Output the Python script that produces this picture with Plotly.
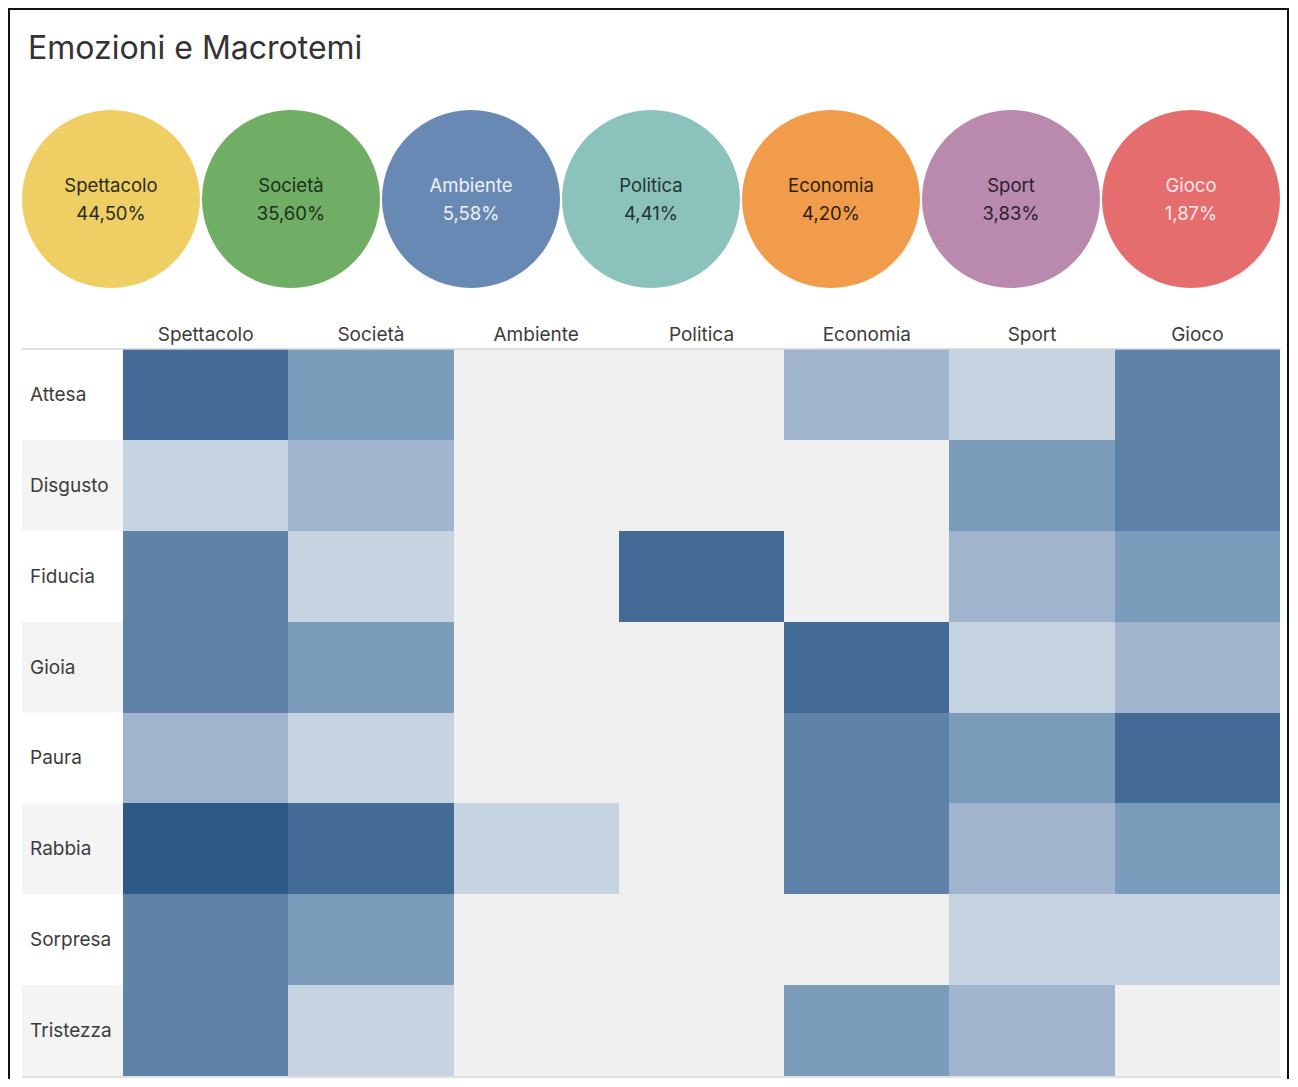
"""Emozioni e Macrotemi: bolle dei macrotemi + heatmap emozioni x macrotemi."""

import plotly.graph_objects as go

# la pagina html ha 8px di margine sul body
OFF = 8
W, H = 1290, 1071

# macrotemi (bolle in alto)
TOPICS = ["Spettacolo", "Società", "Ambiente", "Politica", "Economia", "Sport", "Gioco"]
TOPIC_SHARE = ["44,50%", "35,60%", "5,58%", "4,41%", "4,20%", "3,83%", "1,87%"]
TOPIC_COLORS = ["#efcf63", "#6fae64", "#6889b4", "#8bc2bc", "#f19c4a", "#b98aae", "#e56d6e"]
TOPIC_TEXT = ["#2b2b1e", "#1d2e1b", "#eef2f8", "#1f3633", "#2e1d0c", "#2b2030", "#fbe9e9"]

# emozioni (righe) e intensità a classi 0..6 (0 = nessun dato)
EMOTIONS = ["Attesa", "Disgusto", "Fiducia", "Gioia", "Paura", "Rabbia", "Sorpresa", "Tristezza"]
LEVELS = [
    [5, 3, 0, 0, 2, 1, 4],
    [1, 2, 0, 0, 0, 3, 4],
    [4, 1, 0, 5, 0, 2, 3],
    [4, 3, 0, 0, 5, 1, 2],
    [2, 1, 0, 0, 4, 3, 5],
    [6, 5, 1, 0, 4, 2, 3],
    [4, 3, 0, 0, 0, 1, 1],
    [4, 1, 0, 0, 3, 2, 0],
]
LEVEL_COLORS = ["#f0f0f0", "#c6d3e0", "#a0b5cd", "#7b9bbb", "#5e82a8", "#436b96", "#2c5985"]

FONT = "Inter, 'Open Sans', sans-serif"
TXT = "#3c3c3c"


def px_x(p):
    return (p - OFF) / W


def px_y(p):
    return 1 - (p - OFF) / H


def step_scale(colors):
    n = len(colors)
    scale = []
    for i, c in enumerate(colors):
        scale.append([i / n, c])
        scale.append([(i + 1) / n, c])
    return scale


idx = list(range(len(TOPICS)))
fig = go.Figure()

# bolle
fig.add_trace(
    go.Scatter(
        x=idx,
        y=[0] * len(TOPICS),
        mode="markers",
        marker=dict(size=178, color=TOPIC_COLORS, line=dict(width=0)),
        hoverinfo="skip",
        xaxis="x2",
        yaxis="y2",
        showlegend=False,
    )
)
fig.add_trace(
    go.Scatter(
        x=idx,
        y=[0.12] * len(TOPICS),
        mode="text",
        text=TOPICS,
        textposition="middle center",
        textfont=dict(size=18.5, color=TOPIC_TEXT, family=FONT),
        hoverinfo="skip",
        xaxis="x2",
        yaxis="y2",
        showlegend=False,
    )
)
fig.add_trace(
    go.Scatter(
        x=idx,
        y=[-0.16] * len(TOPICS),
        mode="text",
        text=TOPIC_SHARE,
        textposition="middle center",
        textfont=dict(size=18.5, color=TOPIC_TEXT, family=FONT),
        hoverinfo="skip",
        xaxis="x2",
        yaxis="y2",
        showlegend=False,
    )
)

# heatmap
fig.add_trace(
    go.Heatmap(
        z=LEVELS,
        x=TOPICS,
        y=EMOTIONS,
        zmin=-0.5,
        zmax=6.5,
        colorscale=step_scale(LEVEL_COLORS),
        showscale=False,
        xgap=0,
        ygap=0,
        hovertemplate="%{y} / %{x}: %{z}<extra></extra>",
    )
)

shapes = [
    # cornice
    dict(type="rect", xref="paper", yref="paper", x0=px_x(9), x1=px_x(1288),
         y0=px_y(1100), y1=px_y(9), line=dict(color="#111111", width=2)),
    # righe orizzontali della tabella
    dict(type="line", xref="paper", yref="paper", x0=px_x(22), x1=px_x(1281),
         y0=px_y(349), y1=px_y(349), line=dict(color="#d6d6d6", width=1.5)),
    dict(type="line", xref="paper", yref="paper", x0=px_x(22), x1=px_x(1281),
         y0=px_y(1077), y1=px_y(1077), line=dict(color="#d6d6d6", width=1.5)),
]
# bande alternate dietro le etichette di riga
for i, emo in enumerate(EMOTIONS):
    if i % 2 == 1:
        shapes.append(
            dict(type="rect", xref="paper", yref="y", x0=px_x(22), x1=px_x(123),
                 y0=i - 0.5, y1=i + 0.5, fillcolor="#f4f4f4", line=dict(width=0),
                 layer="below")
        )

annotations = [
    dict(text="Emozioni e Macrotemi", xref="paper", yref="paper", x=px_x(26), y=px_y(48),
         xanchor="left", yanchor="middle", showarrow=False,
         font=dict(size=32, color="#333333", family=FONT)),
]
for emo in EMOTIONS:
    annotations.append(
        dict(text=emo, xref="paper", yref="y", x=px_x(28), y=emo, xanchor="left",
             yanchor="middle", showarrow=False, font=dict(size=19, color=TXT, family=FONT))
    )

fig.update_layout(
    width=W,
    height=H,
    margin=dict(l=0, r=0, t=0, b=0),
    paper_bgcolor="white",
    plot_bgcolor="white",
    font=dict(family=FONT, color=TXT),
    shapes=shapes,
    annotations=annotations,
    xaxis=dict(
        domain=[px_x(123), px_x(1280)],
        side="top",
        showgrid=False,
        zeroline=False,
        ticks="",
        tickfont=dict(size=19, color=TXT),
        ticklabelstandoff=3,
        fixedrange=True,
    ),
    yaxis=dict(
        domain=[px_y(1076), px_y(349)],
        autorange="reversed",
        showticklabels=False,
        showgrid=False,
        zeroline=False,
        ticks="",
        fixedrange=True,
    ),
    xaxis2=dict(
        domain=[0, 1],
        range=[-(111 - OFF) / 180, (W - (111 - OFF)) / 180],
        visible=False,
        anchor="y2",
        fixedrange=True,
    ),
    yaxis2=dict(
        domain=[px_y(299), px_y(99)],
        range=[-1, 1],
        visible=False,
        anchor="x2",
        fixedrange=True,
    ),
)

fig.write_html("out.html")
